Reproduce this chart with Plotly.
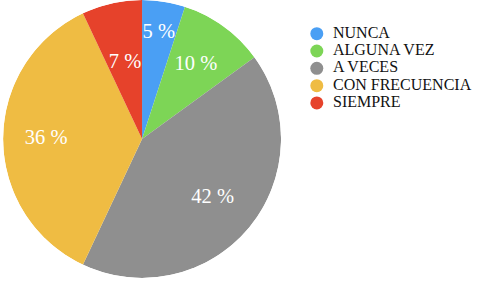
import plotly.graph_objects as go

categories = ["NUNCA", "ALGUNA VEZ", "A VECES", "CON FRECUENCIA", "SIEMPRE"]
values = [5, 10, 42, 36, 7]
colors = ["#4A9FF4", "#7DD556", "#8F8F8F", "#EFBC43", "#E6422B"]

# style: radial placement of each slice label (fraction of radius)
label_r = [0.77, 0.66, 0.66, 0.69, 0.56]

font_family = "Liberation Serif"

total = sum(values)
deg_per_unit = 360.0 / total
widths = [v * deg_per_unit for v in values]
mids = []
acc = 0
for v in values:
    mids.append((acc + v / 2) * deg_per_unit)
    acc += v

fig = go.Figure()
# pie slices as polar wedges
fig.add_trace(go.Barpolar(
    r=[1] * len(values), theta=mids, width=widths,
    marker=dict(color=colors, line=dict(width=0)),
    customdata=categories,
    hovertemplate="%{customdata}: " + "%{text}<extra></extra>",
    text=[f"{v} %" for v in values],
    showlegend=False,
))
# slice labels
fig.add_trace(go.Scatterpolar(
    r=label_r, theta=mids, mode="text",
    text=[f"{v} %" for v in values],
    textposition="middle center",
    textfont=dict(family=font_family, size=20.5, color="white"),
    hoverinfo="skip", showlegend=False,
))

rows = list(range(len(categories)))
# legend drawn as a scatter on its own axes
fig.add_trace(go.Scatter(
    x=[0] * len(categories), y=rows, mode="markers",
    marker=dict(symbol="circle", size=13, color=colors, line=dict(width=0)),
    hoverinfo="skip", showlegend=False,
))
fig.add_trace(go.Scatter(
    x=[0.92] * len(categories), y=rows, mode="text",
    text=categories, textposition="middle right",
    textfont=dict(family=font_family, size=16, color="#111111"),
    hoverinfo="skip", showlegend=False,
))

fig.update_layout(
    width=484, height=281,
    margin=dict(l=0, r=0, t=0, b=0),
    paper_bgcolor="white", plot_bgcolor="white",
    font=dict(family=font_family),
    polar=dict(
        domain=dict(x=[0, 0.587], y=[0.011, 1]),
        bgcolor="rgba(0,0,0,0)",
        bargap=0, hole=0,
        radialaxis=dict(visible=False, range=[0, 1]),
        angularaxis=dict(visible=False, direction="clockwise", rotation=90),
    ),
    xaxis=dict(visible=False, domain=[0.6, 1], range=[-1.5, 9.5], fixedrange=True),
    yaxis=dict(visible=False, domain=[0, 1], range=[14.29, -1.948], fixedrange=True),
    showlegend=False,
)

fig.write_html("out.html")
